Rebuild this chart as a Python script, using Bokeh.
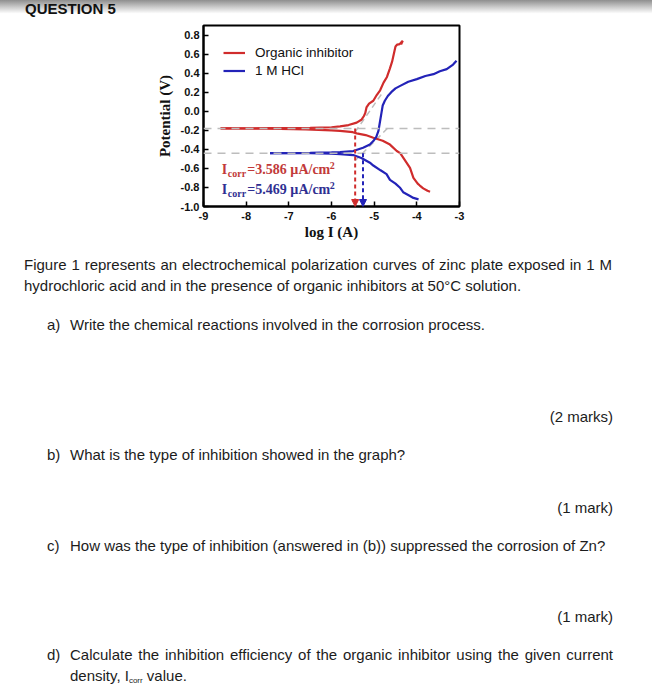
import numpy as np
from bokeh.plotting import figure
from bokeh.models import (Div, Legend, LegendItem, Arrow, NormalHead, Span,
                          Range1d, FixedTicker)
from bokeh.layouts import column
from bokeh.embed import file_html
from bokeh.resources import INLINE
from bokeh.core.properties import value

# ---------------- data ----------------
x_ticks = [-9, -8, -7, -6, -5, -4, -3]
x_tick_labels = ["-9", "-8", "-7", "-6", "-5", "-4", "-3"]
y_ticks = [-1.0, -0.8, -0.6, -0.4, -0.2, 0.0, 0.2, 0.4, 0.6, 0.8]
y_tick_labels = ["-1.0", "-0.8", "-0.6", "-0.4", "-0.2", "0.0", "0.2", "0.4", "0.6", "0.8"]

series_names = ["Organic inhibitor", "1 M HCl"]

# Organic inhibitor (red) – cathodic branch
inh_cath_logi = [-8.60, -7.5, -6.6, -6.0, -5.8, -5.5, -5.41, -5.2, -5.02, -4.8, -4.63,
                 -4.47, -4.39, -4.30, -4.16, -4.08, -3.98, -3.93, -3.85, -3.75, -3.69]
inh_cath_e = [-0.180, -0.183, -0.190, -0.200, -0.207, -0.220, -0.232, -0.250, -0.278, -0.310, -0.350,
              -0.418, -0.440, -0.500, -0.594, -0.700, -0.760, -0.780, -0.810, -0.835, -0.845]
# Organic inhibitor (red) – anodic branch
inh_anod_logi = [-8.60, -7.5, -6.5, -6.0, -5.8, -5.6, -5.41, -5.30, -5.24, -5.21, -5.18, -5.12,
                 -5.02, -4.94, -4.86, -4.78, -4.70, -4.63, -4.58, -4.55, -4.52, -4.50, -4.46,
                 -4.40, -4.33, -4.37]
inh_anod_e = [-0.180, -0.178, -0.175, -0.168, -0.158, -0.145, -0.120, -0.090, -0.050, -0.020, 0.040, 0.080,
              0.110, 0.170, 0.220, 0.300, 0.360, 0.450, 0.520, 0.580, 0.640, 0.680, 0.700,
              0.705, 0.740, 0.700]

# 1 M HCl (blue) – cathodic branch
hcl_cath_logi = [-7.44, -6.5, -6.0, -5.8, -5.49, -5.3, -5.1, -5.02, -4.85, -4.71, -4.63,
                 -4.50, -4.40, -4.32, -4.16, -4.08, -3.96]
hcl_cath_e = [-0.440, -0.440, -0.445, -0.450, -0.460, -0.490, -0.540, -0.570, -0.620, -0.660, -0.720,
              -0.760, -0.800, -0.850, -0.890, -0.910, -0.925]
# 1 M HCl (blue) – anodic branch
hcl_anod_logi = [-7.44, -6.5, -6.0, -5.8, -5.49, -5.26, -5.10, -5.02, -4.95, -4.90, -4.86, -4.83,
                 -4.80, -4.75, -4.68, -4.60, -4.50, -4.39, -4.20, -4.00, -3.80, -3.61, -3.46,
                 -3.30, -3.15, -3.07]
hcl_anod_e = [-0.440, -0.438, -0.432, -0.428, -0.418, -0.383, -0.350, -0.313, -0.270, -0.207, -0.100, -0.020,
              0.060, 0.110, 0.160, 0.200, 0.240, 0.266, 0.310, 0.337, 0.370, 0.389, 0.420,
              0.442, 0.490, 0.530]

# corrosion potentials (V) and current densities (uA/cm2)
ecorr = [-0.18, -0.44]
icorr = [3.586, 5.469]

# Tafel extrapolation lines (grey dashed)
tafel_inh_logi = [-5.45, -4.78]
tafel_inh_e = [-0.22, 0.21]
tafel_hcl_logi = [-5.45, -4.62]
tafel_hcl_e = [-0.52, -0.15]

RED = "#d02c2c"
BLUE = "#2323b8"
RED_TXT = "#c23a3a"
BLUE_TXT = "#2f2f92"
GREY = "#bdbdbd"

# ---------------- figure ----------------
p = figure(width=652, height=228, x_range=Range1d(-9, -3), y_range=Range1d(-1.0, 0.9),
           output_backend="svg", toolbar_location=None,
           min_border_left=203, min_border_right=193, min_border_top=8, min_border_bottom=39,
           margin=(0, 0, 0, 0))
p.background_fill_color = "white"
p.border_fill_color = "white"
p.outline_line_color = "black"
p.outline_line_width = 2
p.xgrid.visible = False
p.ygrid.visible = False

p.xaxis.ticker = FixedTicker(ticks=x_ticks)
p.yaxis.ticker = FixedTicker(ticks=y_ticks)
p.xaxis.major_label_overrides = {t: l for t, l in zip(x_ticks, x_tick_labels)}
p.yaxis.major_label_overrides = {t: l for t, l in zip(y_ticks, y_tick_labels)}
for ax in (p.xaxis, p.yaxis):
    ax.axis_line_width = 2
    ax.axis_line_color = "black"
    ax.major_tick_in = 5
    ax.major_tick_out = 0
    ax.major_tick_line_width = 1.5
    ax.minor_tick_line_color = None
    ax.major_label_text_font = "Liberation Sans"
    ax.major_label_text_font_style = "bold"
    ax.major_label_text_font_size = "11px"
    ax.major_label_text_color = "#111111"
    ax.axis_label_text_font = "Liberation Serif"
    ax.axis_label_text_font_style = "bold"
    ax.axis_label_text_font_size = "15px"
    ax.axis_label_text_color = "#111111"
p.xaxis.axis_label = "log I (A)"
p.yaxis.axis_label = "Potential (V)"
p.xaxis.major_label_standoff = 5
p.yaxis.major_label_standoff = 4
p.xaxis.axis_label_standoff = 1
p.yaxis.axis_label_standoff = 5

# grey dashed reference lines
for e in ecorr:
    p.add_layout(Span(location=e, dimension="width", line_color=GREY, line_dash="8 6",
                      line_width=1.5))
p.line(tafel_inh_logi, tafel_inh_e, line_color=GREY, line_dash="6 4", line_width=1.5)
p.line(tafel_hcl_logi, tafel_hcl_e, line_color=GREY, line_dash="6 4", line_width=1.5)

# curves
r1 = p.line(inh_cath_logi, inh_cath_e, line_color=RED, line_width=2.2)
p.line(inh_anod_logi, inh_anod_e, line_color=RED, line_width=2.2)
b1 = p.line(hcl_cath_logi, hcl_cath_e, line_color=BLUE, line_width=2.2)
p.line(hcl_anod_logi, hcl_anod_e, line_color=BLUE, line_width=2.2)

# Icorr arrows
for e, ic, col in zip(ecorr, icorr, [RED, BLUE]):
    lx = float(np.log10(ic * 1e-6))
    p.add_layout(Arrow(x_start=lx, y_start=e, x_end=lx, y_end=-1.0,
                       line_color=col, line_width=2, line_dash="4 3",
                       end=NormalHead(size=7, fill_color=col, line_color=col)))

# Icorr annotations
lab_x = -8.57
lab_y = [-0.607, -0.818]
for y, ic, col in zip(lab_y, icorr, [RED_TXT, BLUE_TXT]):
    common = dict(text_font=value("Liberation Serif"), text_font_style="bold",
                  text_color=col, text_baseline="middle", text_align="left")
    p.text(x=[lab_x], y=[y], text=["I"], text_font_size="14px", **common)
    p.text(x=[lab_x], y=[y], text=["corr"], text_font_size="10px", x_offset=6, y_offset=4, **common)
    p.text(x=[lab_x], y=[y], text=[f"={ic:.3f} \u00b5A/cm"], text_font_size="14px",
           x_offset=25.5, **common)
    p.text(x=[lab_x], y=[y], text=["2"], text_font_size="10px", x_offset=108, y_offset=-4, **common)

legend = Legend(items=[LegendItem(label=series_names[0], renderers=[r1]),
                       LegendItem(label=series_names[1], renderers=[b1])],
                location="top_left", border_line_color=None, background_fill_alpha=0,
                margin=20, padding=0, spacing=3, glyph_width=22, glyph_height=15,
                label_height=15, label_standoff=10,
                label_text_font="Liberation Sans", label_text_font_size="13.5px",
                label_text_color="#111111")
p.add_layout(legend)

# ---------------- text parts ----------------
FONT = "font-family:'Liberation Sans',Arial,sans-serif;font-size:15px;line-height:18px;color:#1c1c1c;"

top_html = (
    "<div style=\"position:relative;width:652px;height:17px;"
    "background:linear-gradient(to bottom,#8e8e8e 0%,#cfcfcf 45%,#ffffff 80%);\">"
    "<div style=\"position:absolute;left:25px;top:0px;font-family:'Liberation Sans',Arial,sans-serif;"
    "font-weight:bold;font-size:15px;line-height:17px;color:#111;white-space:nowrap;\">QUESTION 5</div>"
    "</div>"
)
top_div = Div(text=top_html, width=652, height=17, margin=(0, 0, 0, 0))


def line(left, top, txt, width=None, justify=False, right=None):
    st = f"position:absolute;top:{top}px;white-space:nowrap;{FONT}"
    if right is not None:
        st += f"right:{right}px;"
    else:
        st += f"left:{left}px;"
    if width is not None:
        st += f"width:{width}px;"
    if justify:
        st += "text-align:justify;text-align-last:justify;"
    return f"<div style=\"{st}\">{txt}</div>"


parts = [
    line(24, 11, "Figure 1 represents an electrochemical polarization curves of zinc plate exposed in 1 M",
         width=588, justify=True),
    line(24, 32, "hydrochloric acid and in the presence of organic inhibitors at 50\u00b0C solution."),
    line(47, 71, "a)"),
    line(70, 71, "Write the chemical reactions involved in the corrosion process."),
    line(0, 163, "(2 marks)", right=39),
    line(47, 201, "b)"),
    line(70, 201, "What is the type of inhibition showed in the graph?"),
    line(0, 254, "(1 mark)", right=39),
    line(47, 292, "c)"),
    line(70, 292, "How was the type of inhibition (answered in (b)) suppressed the corrosion of Zn?"),
    line(0, 363, "(1 mark)", right=39),
    line(47, 401, "d)"),
    line(70, 401, "Calculate the inhibition efficiency of the organic inhibitor using the given current",
         width=543, justify=True),
    line(70, 422, "density, I<span style=\"font-size:8px;vertical-align:-2px;\">corr</span> value."),
]
bottom_html = ("<div style=\"position:relative;width:652px;height:455px;overflow:hidden;background:#fff;\">"
               + "".join(parts) + "</div>")
bottom_div = Div(text=bottom_html, width=652, height=455, margin=(0, 0, 0, 0))

layout = column(top_div, p, bottom_div, spacing=0, margin=(0, 0, 0, 0))

open("out.html", "w").write(file_html(layout, INLINE))
